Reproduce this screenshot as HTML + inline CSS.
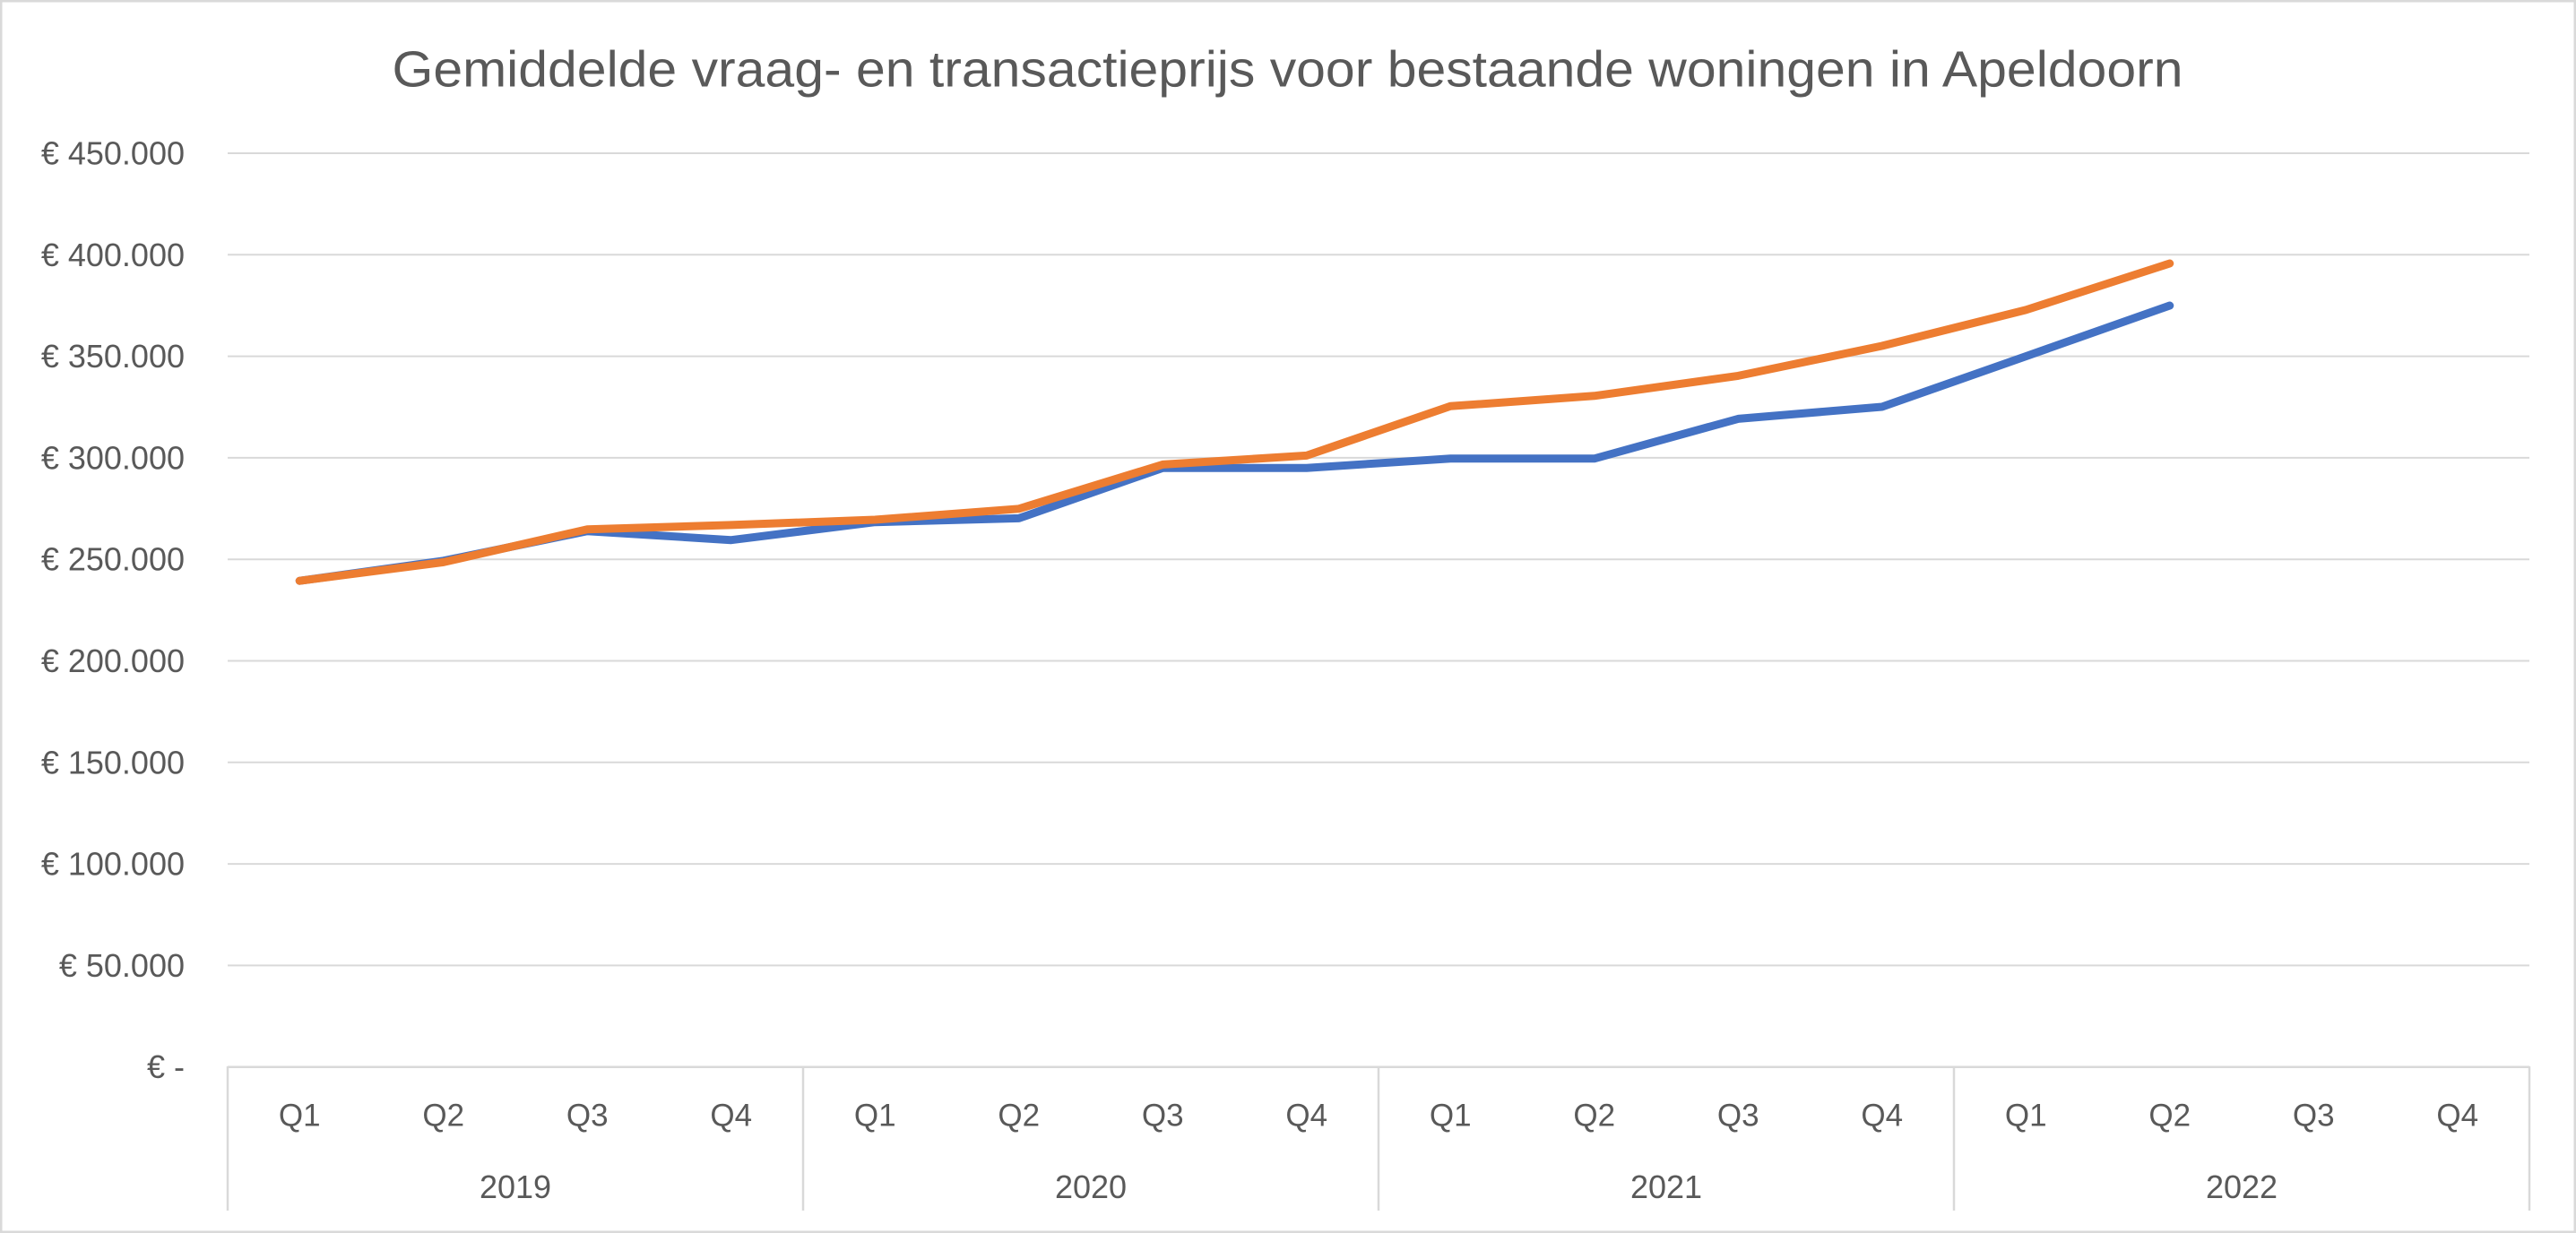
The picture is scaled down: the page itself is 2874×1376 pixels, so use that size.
<!DOCTYPE html>
<html>
<head>
<meta charset="utf-8">
<style>
  html, body { margin: 0; padding: 0; background: #fff; }
  svg { display: block; }
  text { font-family: "Liberation Sans", Arial, sans-serif; fill: #595959; }
</style>
</head>
<body>
<svg width="2874" height="1376" viewBox="0 0 2874 1376" xmlns="http://www.w3.org/2000/svg">
  <rect x="0" y="0" width="2874" height="1376" fill="#ffffff"/>
  <rect x="1.25" y="1.25" width="2871.5" height="1373.5" fill="none" stroke="#D9D9D9" stroke-width="2.5"/>

  <!-- Title -->
  <text x="1436.5" y="96.7" font-size="57" text-anchor="middle" textLength="1998" lengthAdjust="spacingAndGlyphs">Gemiddelde vraag- en transactieprijs voor bestaande woningen in Apeldoorn</text>

  <!-- Gridlines -->
  <g stroke="#D9D9D9" stroke-width="2">
    <line x1="254" y1="171.0" x2="2822" y2="171.0"/>
    <line x1="254" y1="284.3" x2="2822" y2="284.3"/>
    <line x1="254" y1="397.6" x2="2822" y2="397.6"/>
    <line x1="254" y1="510.9" x2="2822" y2="510.9"/>
    <line x1="254" y1="624.2" x2="2822" y2="624.2"/>
    <line x1="254" y1="737.5" x2="2822" y2="737.5"/>
    <line x1="254" y1="850.8" x2="2822" y2="850.8"/>
    <line x1="254" y1="964.1" x2="2822" y2="964.1"/>
    <line x1="254" y1="1077.4" x2="2822" y2="1077.4"/>
  </g>
  <!-- Category axis -->
  <g stroke="#D9D9D9" stroke-width="2.5">
    <line x1="254" y1="1190.7" x2="2822" y2="1190.7"/>
    <line x1="254" y1="1190" x2="254" y2="1351"/>
    <line x1="896" y1="1190" x2="896" y2="1351"/>
    <line x1="1538" y1="1190" x2="1538" y2="1351"/>
    <line x1="2180" y1="1190" x2="2180" y2="1351"/>
    <line x1="2822" y1="1190" x2="2822" y2="1351"/>
  </g>

  <!-- Y labels -->
  <g font-size="36" text-anchor="end">
    <text x="206" y="183.5">€ 450.000</text>
    <text x="206" y="296.8">€ 400.000</text>
    <text x="206" y="410.1">€ 350.000</text>
    <text x="206" y="523.4">€ 300.000</text>
    <text x="206" y="636.7">€ 250.000</text>
    <text x="206" y="750.0">€ 200.000</text>
    <text x="206" y="863.3">€ 150.000</text>
    <text x="206" y="976.6">€ 100.000</text>
    <text x="206" y="1089.9">€ 50.000</text>
    <text x="206" y="1203.2">€ -</text>
  </g>

  <!-- Quarter labels -->
  <g font-size="35" text-anchor="middle">
    <text x="334.25" y="1256.5">Q1</text>
    <text x="494.75" y="1256.5">Q2</text>
    <text x="655.25" y="1256.5">Q3</text>
    <text x="815.75" y="1256.5">Q4</text>
    <text x="976.25" y="1256.5">Q1</text>
    <text x="1136.75" y="1256.5">Q2</text>
    <text x="1297.25" y="1256.5">Q3</text>
    <text x="1457.75" y="1256.5">Q4</text>
    <text x="1618.25" y="1256.5">Q1</text>
    <text x="1778.75" y="1256.5">Q2</text>
    <text x="1939.25" y="1256.5">Q3</text>
    <text x="2099.75" y="1256.5">Q4</text>
    <text x="2260.25" y="1256.5">Q1</text>
    <text x="2420.75" y="1256.5">Q2</text>
    <text x="2581.25" y="1256.5">Q3</text>
    <text x="2741.75" y="1256.5">Q4</text>
  </g>
  <!-- Year labels -->
  <g font-size="36" text-anchor="middle">
    <text x="575" y="1337">2019</text>
    <text x="1217" y="1337">2020</text>
    <text x="1859" y="1337">2021</text>
    <text x="2501" y="1337">2022</text>
  </g>

  <!-- Series: transaction price (blue) -->
  <polyline fill="none" stroke="#4472C4" stroke-width="9" stroke-linecap="round" stroke-linejoin="round"
    points="334.25,648.2 494.75,625.8 655.25,592.7 815.75,602.7 976.25,582.7 1136.75,578.4 1297.25,522.2 1457.75,522.2 1618.25,511.8 1778.75,511.8 1939.25,467.4 2099.75,454.0 2260.25,397.6 2420.75,341.0"/>
  <!-- Series: asking price (orange) -->
  <polyline fill="none" stroke="#ED7D31" stroke-width="9" stroke-linecap="round" stroke-linejoin="round"
    points="334.25,648.2 494.75,627.4 655.25,590.7 815.75,585.9 976.25,580.0 1136.75,567.8 1297.25,518.4 1457.75,508.4 1618.25,453.3 1778.75,441.8 1939.25,419.4 2099.75,386.0 2260.25,345.9 2420.75,294.0"/>
</svg>
</body>
</html>
